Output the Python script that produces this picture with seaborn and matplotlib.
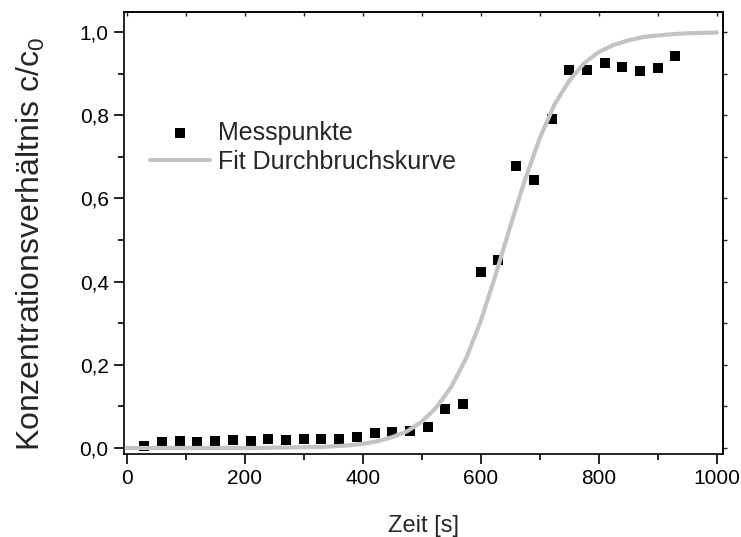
import matplotlib
matplotlib.use("Agg")
import matplotlib.pyplot as plt
import seaborn as sns
import pandas as pd
from matplotlib.ticker import MultipleLocator, FuncFormatter

# Measured points (time in s, c/c0)
zeit = [30, 60, 90, 120, 150, 180, 210, 240, 270, 300, 330, 360, 390, 420, 450,
        480, 510, 540, 570, 600, 630, 660, 690, 720, 750, 780, 810, 840, 870, 900, 930]
messwerte = [0.004, 0.014, 0.017, 0.015, 0.017, 0.018, 0.016, 0.021, 0.019, 0.021,
             0.022, 0.021, 0.027, 0.035, 0.038, 0.041, 0.051, 0.093, 0.105, 0.424,
             0.452, 0.677, 0.644, 0.791, 0.910, 0.910, 0.926, 0.917, 0.907, 0.913, 0.942]

# Fit curve
fit_zeit = [0, 25, 50, 75, 100, 125, 150, 175, 200, 225, 250, 275, 300, 325, 350,
            375, 400, 425, 450, 475, 500, 525, 550, 575, 600, 625, 650, 675, 700,
            725, 750, 775, 800, 825, 850, 875, 900, 925, 950, 975, 1000]
fit_werte = [0.000, 0.000, 0.000, 0.000, 0.000, 0.000, 0.000, 0.000, 0.000, 0.000,
             0.001, 0.001, 0.002, 0.002, 0.004, 0.006, 0.010, 0.016, 0.026, 0.040,
             0.063, 0.098, 0.147, 0.215, 0.305, 0.415, 0.533, 0.645, 0.745, 0.826,
             0.883, 0.925, 0.952, 0.969, 0.980, 0.988, 0.992, 0.995, 0.997, 0.998, 0.999]

x_ticks = [0, 200, 400, 600, 800, 1000]
y_ticks = [0.0, 0.2, 0.4, 0.6, 0.8, 1.0]

label_points = "Messpunkte"
label_fit = "Fit Durchbruchskurve"
x_label = "Zeit [s]"
y_label = "Konzentrationsverh\u00e4ltnis c/c$_0$"

sns.set_theme(style="ticks")
plt.rcParams["font.family"] = ["Liberation Sans", "DejaVu Sans"]
plt.rcParams["mathtext.fontset"] = "custom"
plt.rcParams["mathtext.rm"] = "Liberation Sans"
plt.rcParams["mathtext.it"] = "Liberation Sans"

W, H = 741, 537
fig = plt.figure(figsize=(W / 100, H / 100), dpi=100)
fig.patch.set_facecolor("white")
ax = fig.add_axes([124 / W, (H - 454) / H, (723 - 124) / W, (454 - 11.7) / H])
ax.set_facecolor("white")

df_pts = pd.DataFrame({"t": zeit, "c": messwerte})
df_fit = pd.DataFrame({"t": fit_zeit, "c": fit_werte})

sns.scatterplot(data=df_pts, x="t", y="c", marker="s", s=55, color="black",
                linewidth=0, ax=ax, label=label_points, zorder=2)
sns.lineplot(data=df_fit, x="t", y="c", color="#c3c3c3", linewidth=3.0, ax=ax,
             label=label_fit, zorder=3, solid_capstyle="round")

ax.set_xlim(-4.5, 1010.5)
ax.set_ylim(-0.0145, 1.049)
ax.set_xticks(x_ticks)
ax.set_yticks(y_ticks)
ax.xaxis.set_minor_locator(MultipleLocator(100))
ax.yaxis.set_minor_locator(MultipleLocator(0.1))
ax.yaxis.set_major_formatter(FuncFormatter(lambda v, p: f"{v:.1f}".replace(".", ",")))
ax.xaxis.set_major_formatter(FuncFormatter(lambda v, p: f"{v:.0f}"))

for sp in ax.spines.values():
    sp.set_visible(True)
    sp.set_linewidth(1.2)
    sp.set_color("black")

ax.tick_params(axis="both", which="major", direction="out", length=7, width=1.2,
               labelsize=15, colors="black", pad=4)
ax.tick_params(axis="both", which="minor", direction="out", length=4, width=1.2,
               colors="black")

# top and right decorative ticks
sec_x = ax.secondary_xaxis("top")
sec_x.set_xticks(x_ticks)
sec_x.xaxis.set_minor_locator(MultipleLocator(100))
sec_x.tick_params(which="both", direction="in", length=3, width=1.0, labeltop=False)
sec_y = ax.secondary_yaxis("right")
sec_y.set_yticks(y_ticks)
sec_y.yaxis.set_minor_locator(MultipleLocator(0.1))
sec_y.tick_params(which="both", direction="out", length=3, width=1.0, labelright=False)

ax.set_xlabel(x_label, fontsize=17)
ax.set_ylabel(y_label, fontsize=23)
ax.xaxis.set_label_coords(0.5, -0.138)
ax.yaxis.set_label_coords(-0.128, 0.475)

leg = ax.legend(loc="upper left", bbox_to_anchor=(150 / W, 1 - 121 / H),
                bbox_transform=fig.transFigure, frameon=False, fontsize=18,
                handlelength=2.4, handletextpad=0.32, labelspacing=0.2,
                borderpad=0, borderaxespad=0, markerscale=1.0)

fig.savefig("out.png", dpi=100, facecolor="white")
